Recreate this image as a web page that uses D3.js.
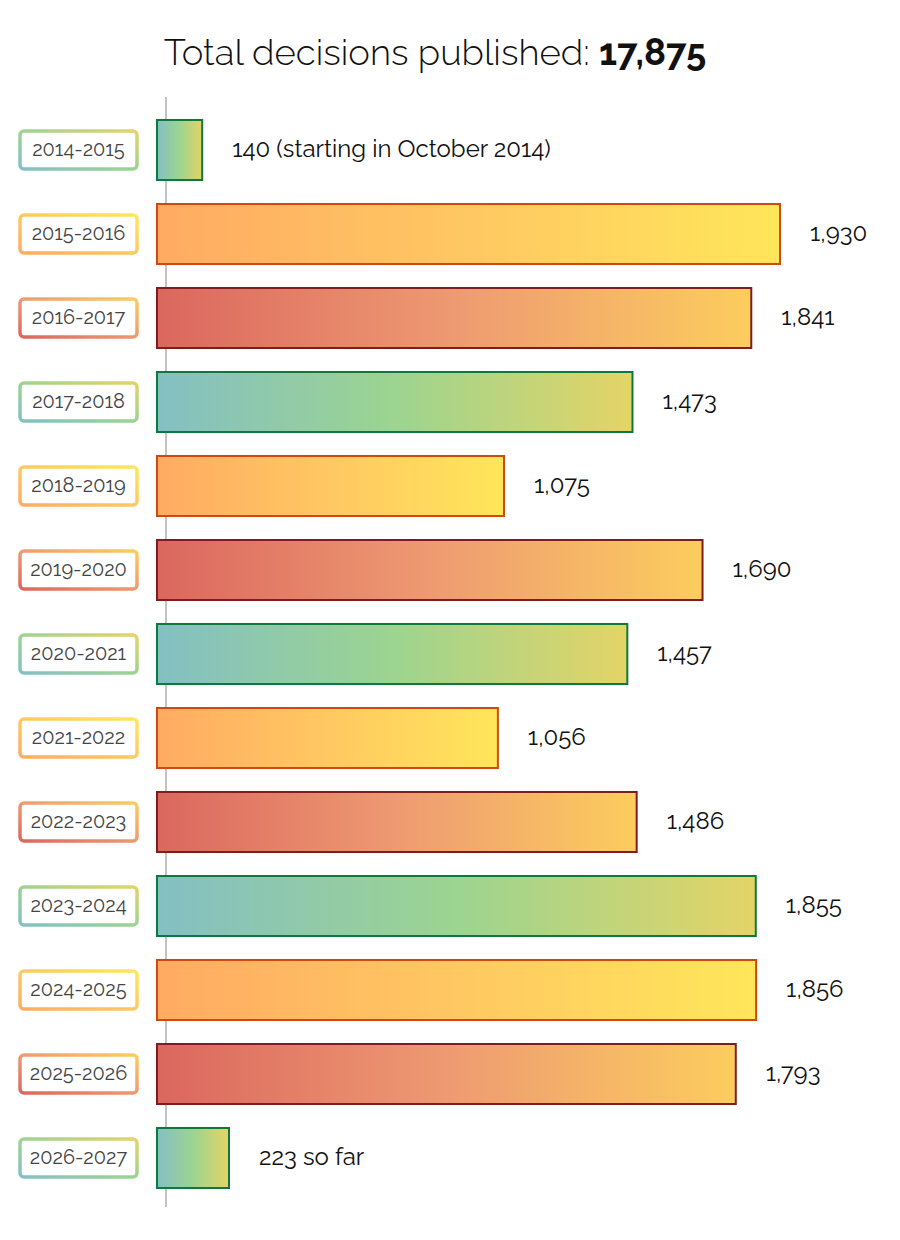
<!DOCTYPE html>
<html>
<head>
<meta charset="utf-8">
<script src="https://cdn.jsdelivr.net/npm/d3@7"></script>
<style>
  body { margin: 0; background: #fff; }
  svg { display: block; font-family: Raleway, Lato, sans-serif; }
</style>
</head>
<body>
<svg id="chart" width="900" height="1240"></svg>
<script>
// data
var seasons = ["2014-2015", "2015-2016", "2016-2017", "2017-2018", "2018-2019", "2019-2020",
  "2020-2021", "2021-2022", "2022-2023", "2023-2024", "2024-2025", "2025-2026", "2026-2027"];
var decisions = [140, 1930, 1841, 1473, 1075, 1690, 1457, 1056, 1486, 1855, 1856, 1793, 223];
var valueLabels = ["140 (starting in October 2014)", "1,930", "1,841", "1,473", "1,075", "1,690",
  "1,457", "1,056", "1,486", "1,855", "1,856", "1,793", "223 so far"];
var totalLabel = "17,875";

// three colour themes cycling green / orange / red
var themes = [
  { id: "green", stops: ["#84bfc4", "#9cd490", "#e4d466"], stroke: "#0c7a3c" },
  { id: "orange", stops: ["#ffab62", "#ffc862", "#ffe65a"], stroke: "#d2490f" },
  { id: "red", stops: ["#db675e", "#ee9a72", "#fccd5d"], stroke: "#7e1c1f" }
];

var svg = d3.select("#chart");
var x0 = 157, axisX = 166;

var x = d3.scaleLinear().domain([0, 1930]).range([x0, 780]);
// band step 84, bar height 60
var y = d3.scaleBand().domain(seasons).range([120, 120 + 84 * 13 - 24]).paddingInner(24 / 84);

var defs = svg.append("defs");
themes.forEach(function(t) {
  var g = defs.append("linearGradient").attr("id", "bar-" + t.id)
    .attr("x1", "0%").attr("x2", "100%").attr("y1", "0%").attr("y2", "0%");
  t.stops.forEach(function(c, i) {
    g.append("stop").attr("offset", (i * 50) + "%").attr("stop-color", c);
  });
  var b = defs.append("linearGradient").attr("id", "box-" + t.id)
    .attr("x1", "0%").attr("y1", "100%").attr("x2", "100%").attr("y2", "0%");
  t.stops.forEach(function(c, i) {
    b.append("stop").attr("offset", (i * 50) + "%").attr("stop-color", c);
  });
});

// title
var title = svg.append("text")
  .attr("x", 435).attr("y", 65)
  .attr("text-anchor", "middle")
  .attr("font-size", 36.5)
  .attr("fill", "#111");
title.append("tspan").attr("font-weight", 300).text("Total decisions published: ");
title.append("tspan").attr("font-weight", 700).text(totalLabel);

// axis line
svg.append("line")
  .attr("x1", axisX).attr("x2", axisX)
  .attr("y1", 97).attr("y2", 1207)
  .attr("stroke", "#999").attr("stroke-width", 1.2);

var rows = svg.selectAll("g.row")
  .data(seasons)
  .enter().append("g")
  .attr("class", "row");

rows.append("rect")
  .attr("x", x0)
  .attr("y", function(d) { return y(d); })
  .attr("width", function(d, i) { return x(decisions[i]) - x0; })
  .attr("height", y.bandwidth())
  .attr("fill", function(d, i) { return "url(#bar-" + themes[i % 3].id + ")"; })
  .attr("stroke", function(d, i) { return themes[i % 3].stroke; })
  .attr("stroke-width", 2);

rows.append("text")
  .attr("x", function(d, i) { return x(decisions[i]) + 30; })
  .attr("y", function(d) { return y(d) + y.bandwidth() / 2 - 2; })
  .attr("dominant-baseline", "central")
  .attr("font-size", 24)
  .attr("fill", "#111")
  .text(function(d, i) { return valueLabels[i]; });

// season label boxes
rows.append("rect")
  .attr("x", 20)
  .attr("y", function(d) { return y(d) + y.bandwidth() / 2 - 19; })
  .attr("width", 117)
  .attr("height", 38)
  .attr("rx", 4)
  .attr("fill", "#fff")
  .attr("stroke", function(d, i) { return "url(#box-" + themes[i % 3].id + ")"; })
  .attr("stroke-width", 3.5);

rows.append("text")
  .attr("x", 78.5)
  .attr("y", function(d) { return y(d) + y.bandwidth() / 2 - 1; })
  .attr("dominant-baseline", "central")
  .attr("text-anchor", "middle")
  .attr("font-size", 20)
  .attr("fill", "#444")
  .text(function(d) { return d; });
</script>
</body>
</html>
